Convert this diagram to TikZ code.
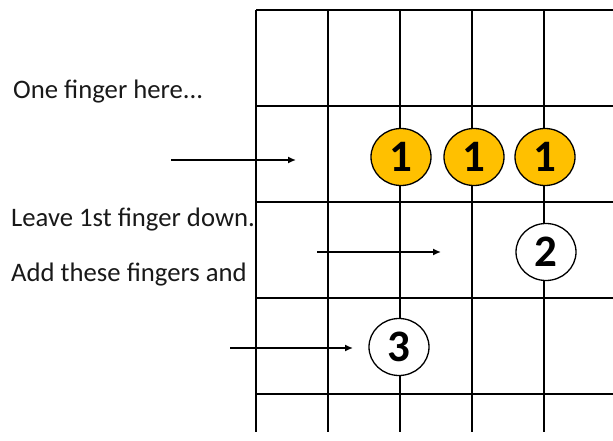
\documentclass[tikz,border=0pt]{standalone}
\usepackage{fontspec}
\setmainfont{Carlito}
\usetikzlibrary{arrows.meta,shapes.geometric}
\begin{document}
\begin{tikzpicture}[x=1pt,y=-1pt,
  grid/.style={line width=1.8pt,black},
  finger/.style={ellipse,draw=black,line width=1.3pt,minimum width=60pt,minimum height=57pt,inner sep=0pt,
    font=\fontsize{45}{45}\selectfont\bfseries},
  held/.style={finger,fill=orange1},
  newf/.style={finger,fill=white},
  lbl/.style={anchor=west,inner sep=0pt,font=\fontsize{26.7}{30}\selectfont,text=black!90},
  pointer/.style={line width=1.5pt,-{Latex[length=8pt,width=7pt]}}]
\definecolor{orange1}{HTML}{FFC000}
\useasboundingbox (0,0) rectangle (613,441);
% grid
\foreach \y in {10,106,202,298,394} \draw[grid] (256,\y) -- (613,\y);
\foreach \x in {256,328,400,472,544} \draw[grid] (\x,10) -- (\x,432);
% fingers
\node[held] (f1a) at (401,157) {1};
\node[held] (f1b) at (474,157) {1};
\node[held] (f1c) at (545,157) {1};
\node[newf] (f2) at (546,252) {2};
\node[newf] (f3) at (399,347) {3};
% labels
\node[lbl] (t1) at (13,92) {One finger here...};
\node[lbl] (t2) at (11,220) {Leave 1st finger down.};
\node[lbl] (t3) at (11,275) {Add these fingers and};
% arrows
\coordinate (a1s) at (171,160); \coordinate (a1e) at (296,160);
\coordinate (a2s) at (317,252); \coordinate (a2e) at (441,252);
\coordinate (a3s) at (230,348); \coordinate (a3e) at (353,348);
\draw[pointer] (a1s) -- (a1e);
\draw[pointer] (a2s) -- (a2e);
\draw[pointer] (a3s) -- (a3e);
\end{tikzpicture}
\end{document}
